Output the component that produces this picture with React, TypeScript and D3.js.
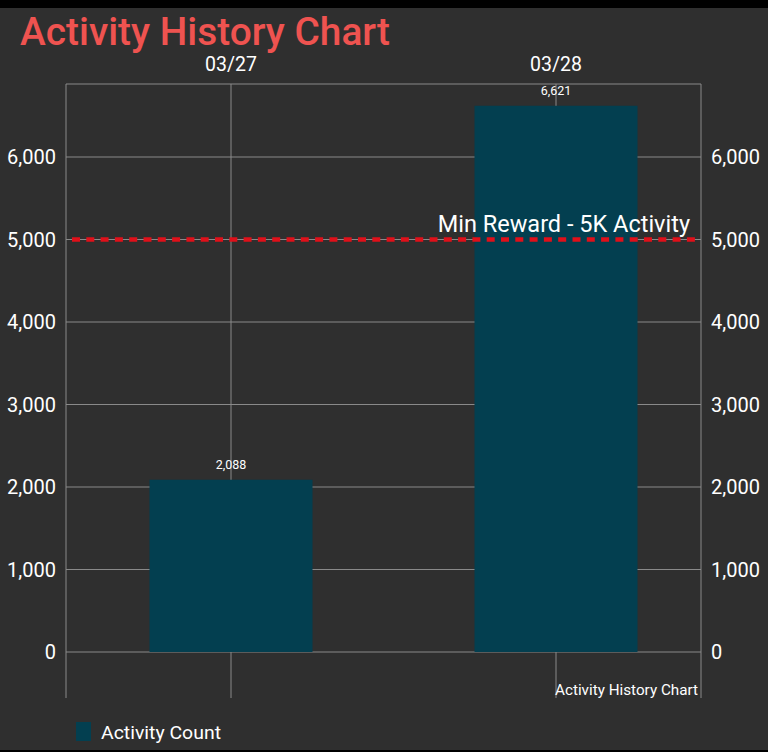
import React from "react";
import * as d3 from "d3";

const categories = ["03/27", "03/28"];
const activityCount = [2088, 6621];
const yTicks = [0, 1000, 2000, 3000, 4000, 5000, 6000];
const threshold = 5000;
const thresholdLabel = "Min Reward - 5K Activity";
const title = "Activity History Chart";
const seriesName = "Activity Count";

export default function App() {
  const W = 768, H = 752;
  const left = 66, right = 701, top = 84, bottom = 698;
  const y = d3.scaleLinear().domain([0, 6000]).range([652, 157]);
  const x = d3.scaleBand().domain(categories).range([68.5, 718.5]).paddingInner(0).paddingOuter(0);
  const barW = 163;
  const fmt = d3.format(",");
  const grid = "#8a8a8a";
  const font = "Roboto, 'Noto Sans', sans-serif";
  return (
    <svg width={W} height={H} style={{ position: "absolute", left: 0, top: 0 }} fontFamily={font}>
      <rect x={0} y={0} width={W} height={H} fill="#000" />
      <rect x={0} y={8} width={W} height={742} fill="#2f2f2f" />
      <text x={20} y={45} fontSize={38} fontWeight={500} fill="#ef5350" textLength={370} lengthAdjust="spacingAndGlyphs">{title}</text>
      {/* frame */}
      <line x1={left} x2={right} y1={top} y2={top} stroke={grid} strokeWidth={1} />
      <line x1={left} x2={left} y1={top} y2={bottom} stroke={grid} strokeWidth={1} />
      <line x1={right} x2={right} y1={top} y2={bottom} stroke={grid} strokeWidth={1} />
      {yTicks.map((t) => (
        <g key={t}>
          <line x1={left} x2={right} y1={y(t)} y2={y(t)} stroke={grid} strokeWidth={1} />
          <text x={56} y={y(t) + 7} fontSize={20} fill="#fff" textAnchor="end">{fmt(t)}</text>
          <text x={711} y={y(t) + 7} fontSize={20} fill="#fff" textAnchor="start">{fmt(t)}</text>
        </g>
      ))}
      {categories.map((c) => {
        const cx = (x(c) as number) + x.bandwidth() / 2;
        return (
          <g key={c}>
            <line x1={cx} x2={cx} y1={top} y2={bottom} stroke={grid} strokeWidth={1} />
            <text x={cx} y={71} fontSize={19.5} fill="#fff" textAnchor="middle">{c}</text>
          </g>
        );
      })}
      {categories.map((c, i) => {
        const cx = (x(c) as number) + x.bandwidth() / 2;
        const v = activityCount[i];
        return (
          <g key={c}>
            <rect x={cx - barW / 2} y={y(v)} width={barW} height={y(0) - y(v)} fill="#033f50" />
            <text x={cx} y={y(v) - 10.5} fontSize={12.5} fill="#fff" textAnchor="middle">{fmt(v)}</text>
          </g>
        );
      })}
      <line x1={left} x2={right} y1={y(threshold)} y2={y(threshold)} stroke="#e0101a" strokeWidth={4.5} strokeDasharray="8 6.3" strokeDashoffset={-6} />
      <text x={690} y={y(threshold) - 8} fontSize={23.5} fill="#fff" textAnchor="end">{thresholdLabel}</text>
      <text x={698} y={695} fontSize={14} fill="#fff" textAnchor="end" textLength={143} lengthAdjust="spacingAndGlyphs">{title}</text>
      <rect x={76} y={722} width={15} height={19} fill="#033f50" />
      <text x={101} y={739} fontSize={19} fill="#fff" textLength={120} lengthAdjust="spacingAndGlyphs">{seriesName}</text>
    </svg>
  );
}
